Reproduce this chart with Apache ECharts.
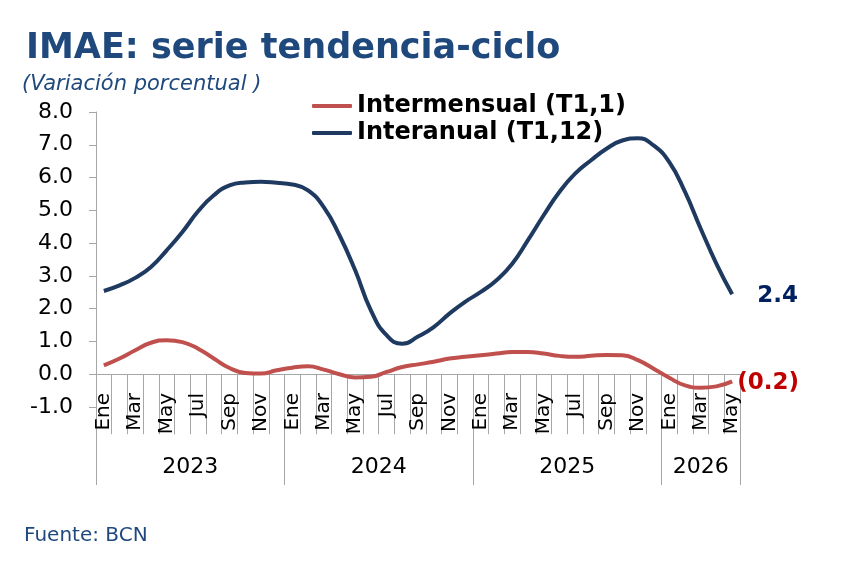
<!DOCTYPE html>
<html>
<head>
<meta charset="utf-8">
<script src="https://cdn.jsdelivr.net/npm/echarts@6/dist/echarts.min.js"></script>
<style>
  html, body { margin: 0; padding: 0; background: #fff; }
  #main { width: 842px; height: 566px; }
</style>
</head>
<body>
<div id="main"></div>
<script>
// etiquetas de meses (Ene 2023 - May 2026)
const mesesAnio = ['Ene', 'Feb', 'Mar', 'Abr', 'May', 'Jun', 'Jul', 'Ago', 'Sep', 'Oct', 'Nov', 'Dic'];
const anios = ['2023', '2024', '2025', '2026'];
const mesesPorAnio = [12, 12, 12, 5];

// variación interanual (T1,12)
const interanual = [
  2.54, 2.71, 2.94, 3.27, 3.78, 4.34, 4.97, 5.46, 5.76, 5.85, 5.87, 5.84,
  5.79, 5.61, 5.10, 4.24, 3.17, 1.95, 1.19, 0.93, 1.15, 1.44, 1.85, 2.21,
  2.51, 2.87, 3.37, 4.09, 4.85, 5.56, 6.12, 6.52, 6.88, 7.13, 7.20, 6.98,
  6.47, 5.56, 4.44, 3.37, 2.44
];
// variación intermensual (T1,1)
const intermensual = [
  0.27, 0.48, 0.73, 0.96, 1.04, 0.98, 0.78, 0.48, 0.19, 0.04, 0.02, 0.12,
  0.20, 0.24, 0.14, 0.00, -0.10, -0.08, 0.07, 0.22, 0.30, 0.38, 0.48, 0.53,
  0.58, 0.63, 0.68, 0.68, 0.63, 0.56, 0.53, 0.56, 0.59, 0.58, 0.43, 0.17,
  -0.11, -0.34, -0.41, -0.37, -0.22
];

const meses = [];
mesesPorAnio.forEach(n => { for (let i = 0; i < n; i++) meses.push(mesesAnio[i]); });

// limites y centros de cada año en el eje de años
const limites = [0];
const centros = [];
mesesPorAnio.forEach(n => {
  const ini = limites[limites.length - 1];
  centros.push(ini + n / 2);
  limites.push(ini + n);
});

const azul = '#1F3A60';
const rojo = '#C0504D';
const gris = '#A6A6A6';
const fuente = 'DejaVu Sans';

const fmt = v => v < 0 ? `(${Math.abs(v).toFixed(1)})` : v.toFixed(1);

const chart = echarts.init(document.getElementById('main'));
chart.setOption({
  animation: false,
  textStyle: { fontFamily: fuente },
  title: [
    {
      text: 'IMAE: serie tendencia-ciclo',
      left: 26, top: 31, padding: 0,
      textStyle: { fontFamily: fuente, fontSize: 35, fontWeight: 'bold', color: '#1F497D' }
    },
    {
      text: '(Variación porcentual )',
      left: 22, top: 74, padding: 0,
      textStyle: { fontFamily: fuente, fontSize: 21, fontStyle: 'italic', fontWeight: 'normal', color: '#1F497D' }
    },
    {
      text: 'Fuente: BCN',
      left: 24, top: 526, padding: 0,
      textStyle: { fontFamily: fuente, fontSize: 20, fontWeight: 'normal', color: '#1F497D' }
    }
  ],
  legend: {
    orient: 'vertical',
    left: 312, top: 94, padding: 0,
    itemWidth: 40, itemHeight: 4, itemGap: 3,
    icon: 'roundRect',
    textStyle: { fontFamily: fuente, fontSize: 24, fontWeight: 'bold', color: '#000', lineHeight: 24 },
    data: ['Intermensual (T1,1)', 'Interanual (T1,12)']
  },
  grid: { left: 96, right: 102, top: 112, bottom: 159, containLabel: false },
  xAxis: [
    {
      type: 'category',
      position: 'bottom',
      data: meses,
      boundaryGap: true,
      axisLine: { onZero: true, lineStyle: { color: gris, width: 1 } },
      axisTick: { show: true, interval: 0, length: 60, lineStyle: { color: gris } },
      axisLabel: { interval: 1, rotate: 90, fontSize: 20, margin: -14, color: '#000', fontFamily: fuente },
      splitLine: { show: false }
    },
    {
      type: 'value',
      position: 'bottom',
      offset: 78,
      min: 0, max: limites[limites.length - 1],
      axisLine: { show: false },
      axisTick: { show: true, inside: true, length: 111, customValues: limites, lineStyle: { color: gris } },
      axisLabel: {
        inside: true, margin: 7, fontSize: 22, color: '#000', fontFamily: fuente,
        customValues: centros,
        formatter: v => anios[centros.indexOf(v)] || ''
      },
      splitLine: { show: false }
    }
  ],
  yAxis: {
    type: 'value',
    min: -1, max: 8, interval: 1,
    axisLine: { show: true, lineStyle: { color: gris } },
    axisTick: { show: true, length: 7, lineStyle: { color: gris } },
    axisLabel: { fontSize: 22, color: '#000', margin: 23, fontFamily: fuente, formatter: v => v.toFixed(1) },
    splitLine: { show: false }
  },
  series: [
    {
      name: 'Intermensual (T1,1)',
      type: 'line',
      data: intermensual,
      smooth: 0.5,
      symbol: 'none',
      z: 3,
      lineStyle: { color: rojo, width: 4 },
      itemStyle: { color: rojo },
      endLabel: {
        show: true, distance: 5, offset: [0, 2],
        formatter: p => fmt(p.value),
        color: '#C00000', fontSize: 23, fontWeight: 'bold', fontFamily: fuente
      }
    },
    {
      name: 'Interanual (T1,12)',
      type: 'line',
      data: interanual,
      smooth: 0.5,
      symbol: 'none',
      z: 3,
      lineStyle: { color: azul, width: 4 },
      itemStyle: { color: azul },
      endLabel: {
        show: true, distance: 25, offset: [0, 2],
        formatter: p => fmt(p.value),
        color: '#002060', fontSize: 23, fontWeight: 'bold', fontFamily: fuente
      }
    }
  ]
});
</script>
</body>
</html>
